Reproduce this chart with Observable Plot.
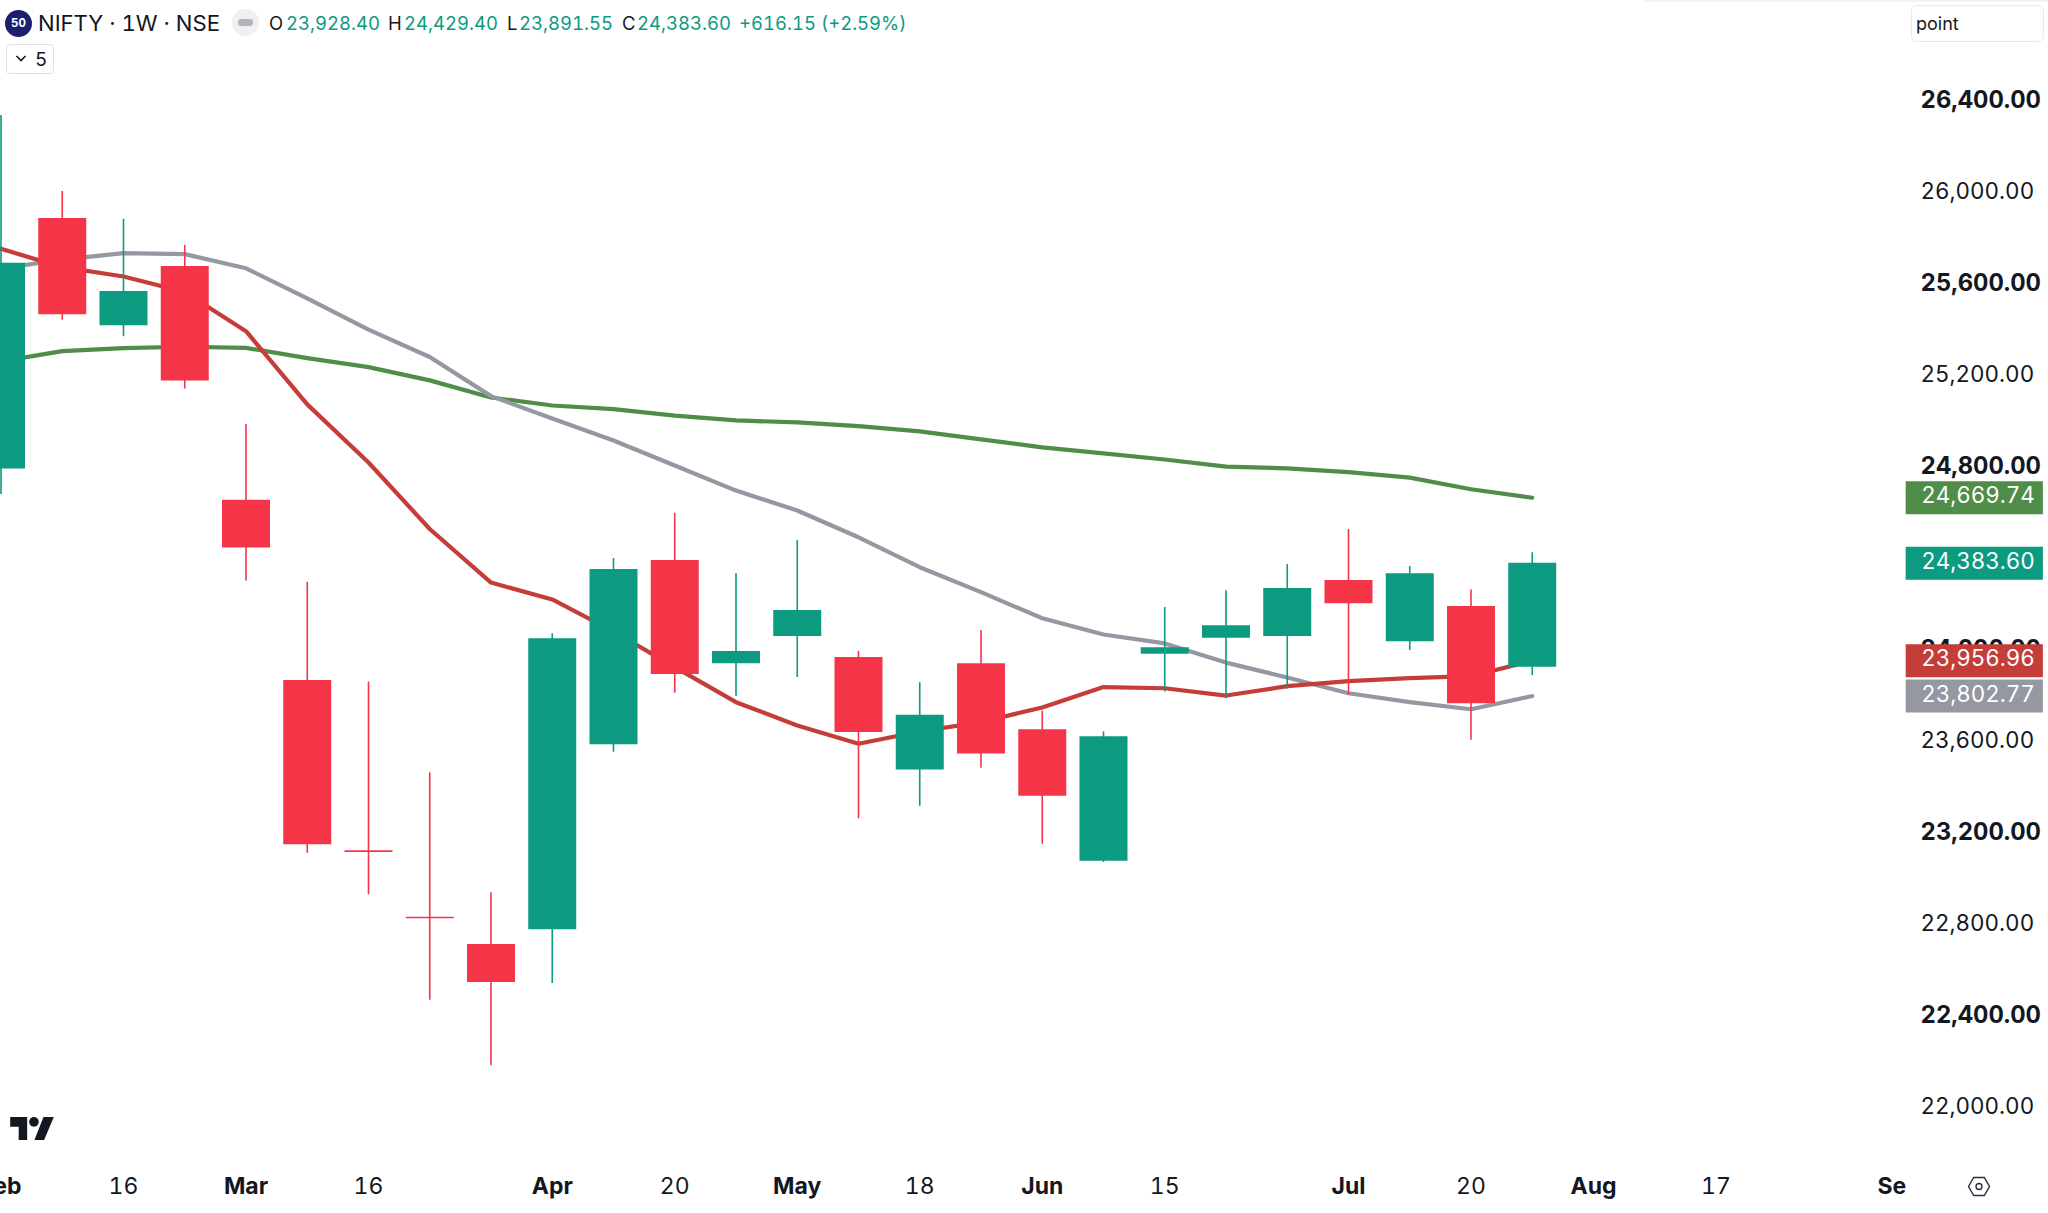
<!DOCTYPE html>
<html><head><meta charset="utf-8">
<script src="https://cdn.jsdelivr.net/npm/d3@7"></script>
<script src="https://cdn.jsdelivr.net/npm/@observablehq/plot@0.6"></script>
<style>
html,body{margin:0;padding:0;background:#fff;overflow:hidden;width:2048px;height:1213px}
body{font-family:Inter,"Noto Sans",sans-serif;color:#131722;position:relative;font-variant-numeric:tabular-nums}
#chart{position:absolute;left:0;top:0}
#chart text{font-variant-numeric:tabular-nums}
.o{position:absolute;white-space:nowrap;line-height:1}
.g{color:#0c9a81}
</style></head><body>
<div id="chart"></div>
<div class="o" style="left:1645px;top:0;width:403px;height:1.5px;background:#f0f3fa"></div>
<div class="o" style="left:5px;top:10px;width:27px;height:27px;border-radius:50%;background:#1b1f6e;color:#fff;font-size:11.5px;font-weight:700;line-height:27px;text-align:center">50</div>
<div class="o" id="sym" style="left:38px;top:12px;font-size:22.1px">NIFTY · 1W · NSE</div>
<div class="o" style="left:232px;top:9px;width:27px;height:27px;border-radius:50%;background:#f0f0f0"></div>
<div class="o" style="left:238px;top:19px;width:15px;height:7px;border-radius:3px;background:#b2b5be"></div>
<div class="o" style="left:269px;top:14px;font-size:18.5px">O</div><div class="o g" style="left:286px;top:14px;font-size:18.5px">23,928.40</div>
<div class="o" style="left:388px;top:14px;font-size:18.5px">H</div><div class="o g" style="left:404px;top:14px;font-size:18.5px">24,429.40</div>
<div class="o" style="left:507px;top:14px;font-size:18.5px">L</div><div class="o g" style="left:519px;top:14px;font-size:18.5px">23,891.55</div>
<div class="o" style="left:622px;top:14px;font-size:18.5px">C</div><div class="o g" style="left:637px;top:14px;font-size:18.5px">24,383.60</div>
<div class="o g" style="left:739px;top:14px;font-size:18.5px">+616.15 (+2.59%)</div>
<div class="o" style="left:6px;top:44px;width:48px;height:30px;border:1.5px solid #dfe1e7;border-radius:4px;box-sizing:border-box"></div>
<svg class="o" style="left:15px;top:54px" width="12" height="9" viewBox="0 0 12 9"><path d="M1.5 2 6 6.5 10.5 2" fill="none" stroke="#131722" stroke-width="1.6"/></svg>
<div class="o" style="left:35px;top:50px;font-size:19px">5</div>
<div class="o" style="left:1911px;top:5px;width:133px;height:37px;border:1.5px solid #e8e9ee;border-radius:6px;box-sizing:border-box"></div>
<div class="o" style="left:1916px;top:15px;font-size:18px">point</div>
<svg class="o" style="left:10px;top:1117px" width="44" height="23" viewBox="0 0 36 19"><path fill="#131722" d="M14 19H7V8H0V0h14zM20 19l7.5-19H36l-8 19z"/><circle cx="19.6" cy="4" r="4" fill="#131722"/></svg>
<svg class="o" style="left:1966.5px;top:1176px" width="24" height="21" viewBox="0 0 24 21"><path d="M1.5 10.5 6.7 1.5h10.6l5.2 9-5.2 9H6.7z" fill="none" stroke="#2a2e39" stroke-width="1.4"/><circle cx="12" cy="10.5" r="3" fill="none" stroke="#2a2e39" stroke-width="1.4"/></svg>
<script>
const upColor = "#0c9a81", downColor = "#f43548";
const opens  = [24795,25891,25422,25681,24659,23871,23126,22836,22717,22781,23590,24395,23944,24063,23971,23480,23944,23655,23081,23986,24056,24063,24308,24040,24194,23928.40];
const highs  = [26341,26009,25887,25773,24990,24300,23864,23467,22943,24075,24404,24602,24337,24483,23998,23861,24089,23737,23646,24190,24263,24378,24531,24369,24266,24429.40];
const lows   = [24684,25446,25374,25145,24306,23116,22934,22473,22186,22546,23557,23815,23801,23884,23266,23321,23487,23155,23075,23820,23791,23833,23807,24002,23610,23891.55];
const closes = [25695,25470,25572,25180,24450,23153,23119,22829,22550,24053,24356,23897,23998,24177,23643,23719,23549,23365,23625,24014,24110,24273,24206,24337,23769,24383.60];
const maRed   = [25758,25678,25637,25569,25398,25078,24824,24533,24299,24225,24085,23929,23776,23674,23594,23648,23689,23753,23842,23837,23805,23846,23868,23881,23890,23956.96];
const maGray  = [25672,25711,25739,25735,25673,25541,25405,25285,25114,25016,24920,24811,24701,24614,24497,24366,24257,24143,24072,24033,23949,23884,23815,23776,23745,23802.77];
const maGreen = [25266,25311,25324,25330,25325,25280,25241,25183,25108,25073,25057,25029,25008,24999,24983,24960,24925,24890,24864,24837,24806,24798,24782,24758,24707,24669.74];
const priceTicksBold = [26400,25600,24800,24000,23200,22400];
const priceTicks = [26000,25200,23600,22800,22000];
const monthTicks = [0,4,9,13,17,22,26,30.87];
const monthLabels = ["Feb","Mar","Apr","May","Jun","Jul","Aug","Se"];
const dayTicks = [2,6,11,15,19,24,28];
const dayLabels = ["16","16","20","18","15","20","17"];
const pillValues = [24669.74,24383.60,23956.96,23802.77];
const pillColors = ["#4f8d48","#0c9a81","#c53d39","#9598a1"];

const candles = closes.map((c,i)=>({i,o:opens[i],h:highs[i],l:lows[i],c}));
const series = (vals)=>vals.map((v,i)=>({i,v}));
const pills = pillValues.map((value,k)=>({value,color:pillColors[k]}));
const fmt = d3.format(",.2f");
const tone = d=>d.c>=d.o?upColor:downColor;
const lineOpts = {x:"i",y:"v",strokeWidth:4.2,strokeLinejoin:"round",strokeLinecap:"round"};
const axisFont = {fontSize:23,tickSize:0};

const chart = Plot.plot({
  width:2048,height:1213,
  marginLeft:0,marginRight:128,marginTop:0,marginBottom:40,
  style:{fontFamily:"Inter, sans-serif",color:"#131722",background:"#fff"},
  x:{domain:[-0.00816,31.3388],range:[0,1920],label:null},
  y:{domain:[22000,26400],range:[1107.9,101.5],label:null},
  color:{type:"identity"},
  marks:[
    Plot.line(series(maGreen),{...lineOpts,stroke:pillColors[0]}),
    Plot.line(series(maGray),{...lineOpts,stroke:pillColors[3]}),
    Plot.line(series(maRed),{...lineOpts,stroke:pillColors[2]}),
    Plot.ruleX(candles,{x:"i",y1:"l",y2:"h",stroke:tone,strokeWidth:1.6}),
    Plot.ruleX(candles,{x:"i",y1:"o",y2:"c",stroke:tone,strokeWidth:48}),
    Plot.axisY({tickSize:0,fontSize:23.8,anchor:"right",ticks:priceTicksBold,tickFormat:fmt,tickPadding:0,dy:-1.5,fontWeight:700}),
    Plot.axisY({tickSize:0,fontSize:22.4,anchor:"right",ticks:priceTicks,tickFormat:fmt,tickPadding:0,dy:-1.5}),
    Plot.axisX({...axisFont,anchor:"bottom",ticks:monthTicks,tickFormat:d=>monthLabels[monthTicks.indexOf(d)],tickPadding:4.5,fontWeight:700}),
    Plot.axisX({...axisFont,anchor:"bottom",ticks:dayTicks,tickFormat:d=>dayLabels[dayTicks.indexOf(d)],tickPadding:4.5}),
    Plot.ruleY(pills,{y:"value",x1:31.105,x2:33.345,stroke:"color",strokeWidth:33}),
    Plot.text(pills,{y:"value",x:31.35,dy:-1.5,text:d=>fmt(d.value),textAnchor:"start",fill:"#fff",fontSize:22.4})
  ]
});
document.getElementById("chart").append(chart);
</script>
</body></html>
